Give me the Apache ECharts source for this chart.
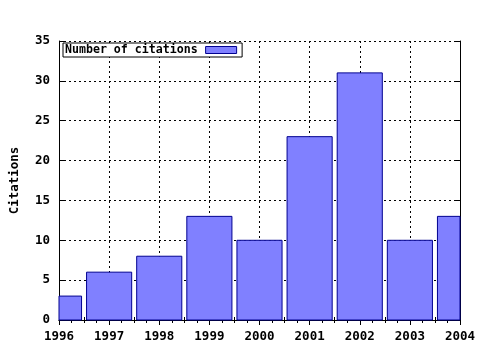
<!DOCTYPE html>
<html><head><meta charset="utf-8">
<script src="https://cdn.jsdelivr.net/npm/echarts@6/dist/echarts.min.js"></script>
<style>html,body{margin:0;padding:0;background:#fff}#c{width:480px;height:350px}</style>
</head><body><div id="c"></div>
<script>
var years = [1996, 1997, 1998, 1999, 2000, 2001, 2002, 2003, 2004];
var citations = [3, 6, 8, 13, 10, 23, 31, 10, 13];
var seriesName = 'Number of citations';
var yTitle = 'Citations';

var font = 'DejaVu Sans Mono';
var HALF_BAR = 0.45;
var FILL = '#8080ff', EDGE = '#000090';
var chart = echarts.init(document.getElementById('c'), null, {renderer: 'canvas'});
var lbl = {color: '#000', fontFamily: font, fontWeight: 'bold', fontSize: 12.5};
function xAxisCfg(pos, show) {
  return {
    type: 'value', position: pos, min: 1996, max: 2004, interval: 1,
    axisLine: {show: true, lineStyle: {color: '#000', width: 1}},
    axisTick: {show: true, inside: true, length: 5, lineStyle: {color: '#000'}},
    minorTick: {show: true, splitNumber: 4, length: 3, lineStyle: {color: '#000'}},
    axisLabel: Object.assign({show: show, margin: 10, formatter: function (v) { return String(v); }}, lbl),
    splitLine: {show: show, lineStyle: {color: '#000', type: [2, 3], width: 1}}
  };
}
function yAxisCfg(pos, show) {
  return {
    type: 'value', position: pos, min: 0, max: 35, interval: 5,
    name: show ? yTitle : '', nameLocation: 'middle', nameGap: 38, nameRotate: 90,
    nameTextStyle: lbl,
    axisLine: {show: true, lineStyle: {color: '#000', width: 1}},
    axisTick: {show: true, inside: true, length: 5, lineStyle: {color: '#000'}},
    axisLabel: Object.assign({show: show, margin: 9}, lbl),
    splitLine: {show: show, lineStyle: {color: '#000', type: [2, 3], width: 1}}
  };
}
chart.setOption({
  animation: false,
  grid: {left: 57, right: 20, top: 41, bottom: 30},
  legend: {
    left: 63, top: 43, align: 'right', orient: 'horizontal',
    backgroundColor: '#fff',
    borderColor: '#000', borderWidth: 1, padding: [1, 5, 1, 2],
    itemWidth: 31, itemHeight: 7, itemGap: 6,
    textStyle: Object.assign({}, lbl, {fontSize: 11.6, padding: [0, 3, 0, 0]}),
    data: [{name: seriesName, icon: 'rect', itemStyle: {color: FILL, borderColor: EDGE, borderWidth: 1}}]
  },
  xAxis: [xAxisCfg('bottom', true), xAxisCfg('top', false)],
  yAxis: [yAxisCfg('left', true), yAxisCfg('right', false)],
  series: [{
    name: seriesName, type: 'custom', xAxisIndex: 0, yAxisIndex: 0,
    itemStyle: {color: FILL, borderColor: EDGE, borderWidth: 1},
    encode: {x: 0, y: 1},
    data: years.map(function (y, i) { return [y, citations[i]]; }),
    renderItem: function (params, api) {
      var x = api.value(0), v = api.value(1);
      var p1 = api.coord([x - HALF_BAR, v]);
      var p2 = api.coord([x + HALF_BAR, 0]);
      var cs = params.coordSys;
      var r = echarts.graphic.clipRectByRect(
        {x: p1[0], y: p1[1], width: p2[0] - p1[0], height: p2[1] - p1[1]},
        {x: cs.x, y: cs.y, width: cs.width, height: cs.height});
      if (!r) return null;
      return {type: 'rect', shape: r,
        style: {fill: FILL, stroke: EDGE, lineWidth: 1}};
    }
  }]
});
</script></body></html>
